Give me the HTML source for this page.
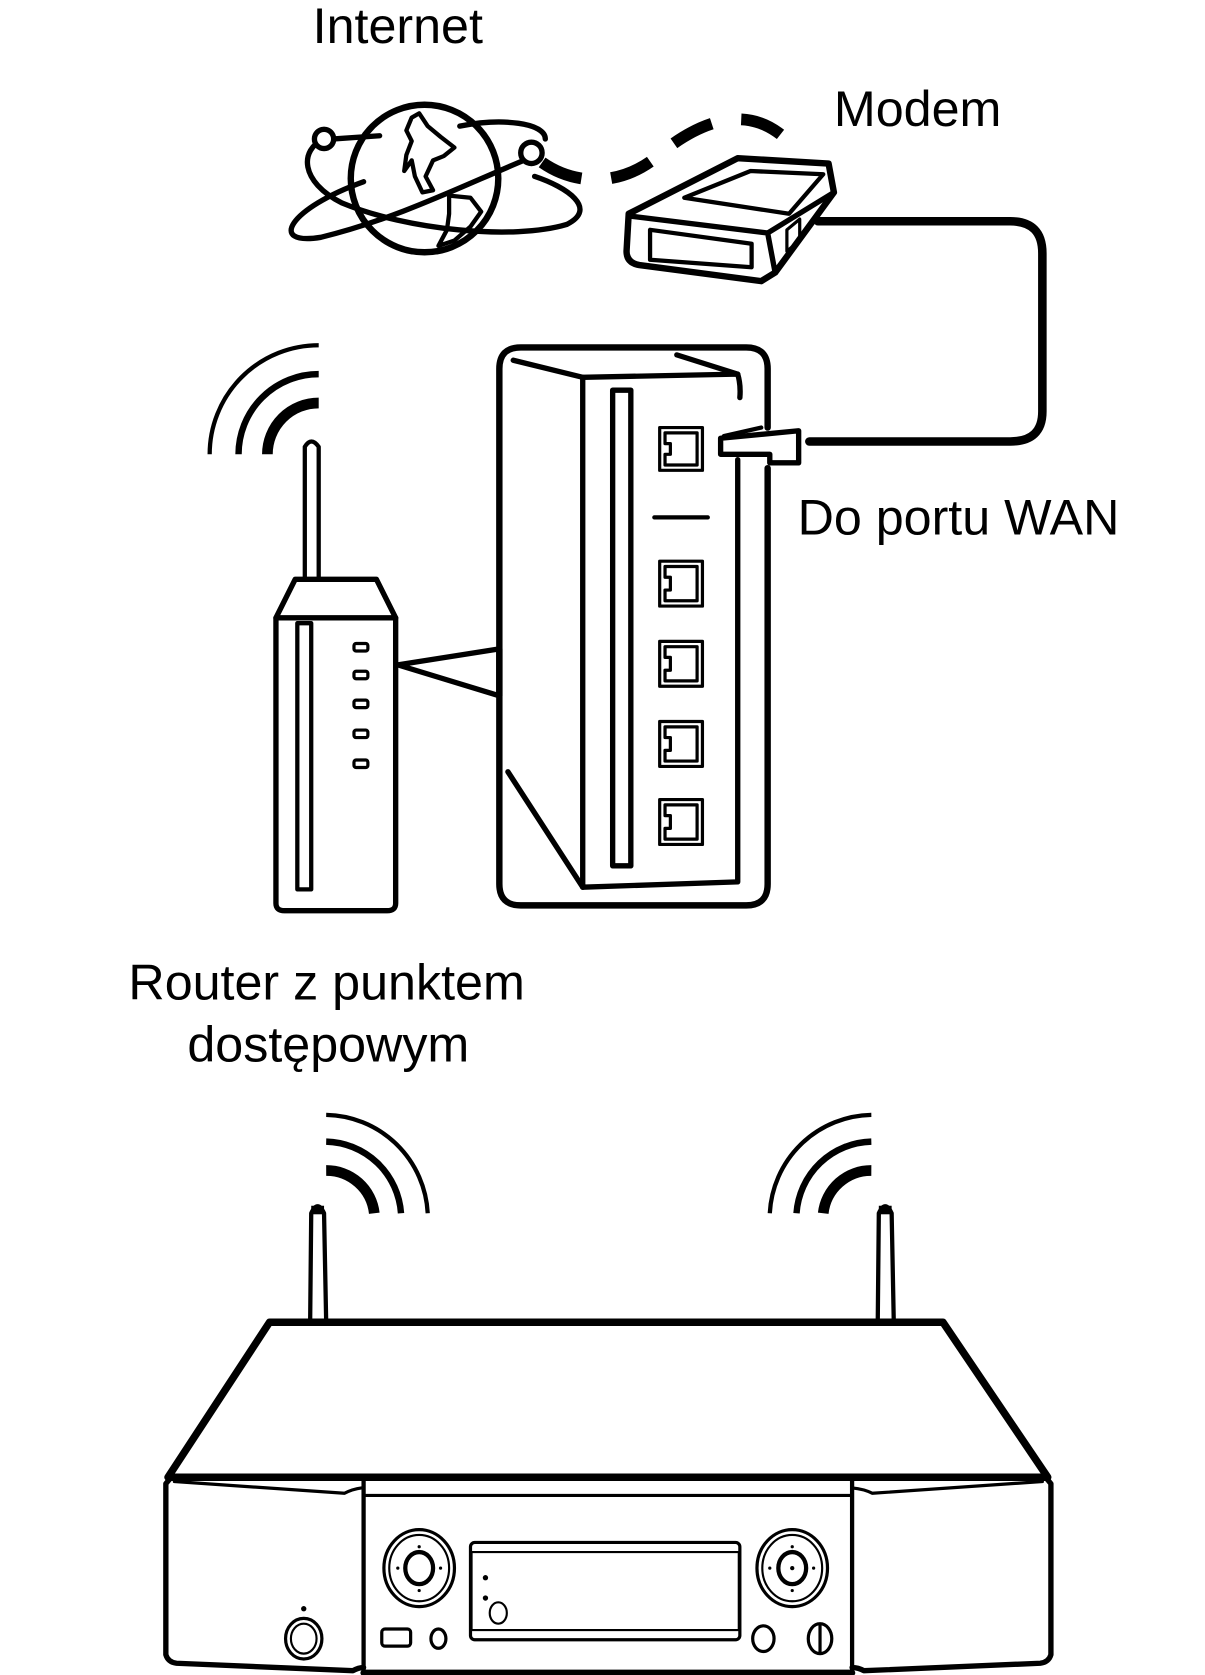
<!DOCTYPE html>
<html><head><meta charset="utf-8"><style>
html,body{margin:0;padding:0;background:#fff}
svg{display:block}
text{font-family:"Liberation Sans",sans-serif;font-size:47px;fill:#000}
</style></head><body>
<svg width="1205" height="1675" viewBox="0 0 1127 1567" xmlns="http://www.w3.org/2000/svg">
<text x="372" y="40" text-anchor="middle">Internet</text>
<text x="780" y="118">Modem</text>
<text x="746" y="500">Do portu WAN</text>
<text x="120" y="935">Router z punktem</text>
<text x="307" y="993" text-anchor="middle">dostępowym</text>

<g fill="none" stroke="#000" stroke-linejoin="round" stroke-linecap="round">
<!-- globe -->
<circle cx="397" cy="167" r="69" stroke-width="6"/>
<path d="M303 130 C280 140 280 170 320 190 C380 215 480 225 530 210 C560 195 530 175 500 165" stroke-width="5"/>
<path d="M312 130 L355 127 M430 118 C470 110 510 115 510 130" stroke-width="5"/>
<path d="M490 150 C430 175 370 205 300 222 C250 230 270 195 340 170" stroke-width="5"/>
<circle cx="303" cy="130" r="9" stroke-width="5" fill="#fff"/>
<circle cx="497" cy="143" r="10" stroke-width="5" fill="#fff"/>
<path d="M392 106 L400 118 L412 128 L425 138 L415 146 L405 150 L398 165 L405 178 L395 180 L388 165 L385 150 L378 160 L380 145 L385 132 L380 122 L385 110 Z" stroke-width="4"/>
<path d="M420 183 L440 185 L450 198 L440 212 L425 225 L410 230 L418 215 L420 200 Z" stroke-width="4"/>
<!-- dashed to modem -->
<path d="M507 152 C540 175 580 172 610 150 C650 115 700 92 740 135" stroke-width="11" stroke-dasharray="40 28" stroke-linecap="butt"/>
<!-- modem -->
<path d="M588 200 L690 148 L775 153 L780 180 L725 255 L712 263 L598 248 Q586 246 586 235 Z" stroke-width="6" fill="#fff"/>
<path d="M588 202 L718 218 L725 255" stroke-width="5"/>
<path d="M718 218 L780 180" stroke-width="5"/>
<path d="M640 185 L702 160 L770 163 L738 200 Z" stroke-width="4"/>
<path d="M608 215 L608 243 L703 250 L703 228 Z" stroke-width="4"/>
<path d="M736 215 L748 205 L748 225 L736 235 Z" stroke-width="3"/>
<!-- cable -->
<path d="M765 207 L945 207 Q975 207 975 237 L975 385 Q975 413 945 413 L757 413" stroke-width="8"/>
<!-- router small wifi -->
<path d="M250 425 A48 48 0 0 1 298 377" stroke-width="10" stroke-linecap="butt"/>
<path d="M223 425 A75 75 0 0 1 298 350" stroke-width="6" stroke-linecap="butt"/>
<path d="M196 425 A102 102 0 0 1 298 323" stroke-width="4" stroke-linecap="butt"/>
<!-- antenna -->
<path d="M285 552 L285 418 Q291 408 298 418 L298 552" stroke-width="4" fill="#fff"/>
<!-- router body -->
<path d="M258 578 L276 542 L352 542 L370 578" stroke-width="5" fill="#fff"/>
<path d="M258 578 L370 578 L370 845 Q370 852 362 852 L266 852 Q258 852 258 845 Z" stroke-width="5" fill="#fff"/>
<rect x="278" y="583" width="13" height="249" stroke-width="4"/>
<g stroke-width="3"><rect x="331" y="602" width="13" height="7" rx="2"/><rect x="331" y="628" width="13" height="7" rx="2"/><rect x="331" y="655" width="13" height="7" rx="2"/><rect x="331" y="683" width="13" height="7" rx="2"/><rect x="331" y="711" width="13" height="7" rx="2"/></g>
<path d="M372 622 L467 607 M372 622 L467 651" stroke-width="5"/>
<!-- zoom box -->
<path d="M467 651 L467 345 Q467 325 487 325 L698 325 Q718 325 718 345 L718 400" stroke-width="6"/>
<path d="M718 438 L718 827 Q718 847 698 847 L487 847 Q467 847 467 827 L467 607" stroke-width="6"/>
<path d="M480 337 L545 353 L690 350 Q693 360 692 372" stroke-width="5"/>
<path d="M633 332 L690 350" stroke-width="5"/>
<path d="M545 353 L545 830 L690 825 L690 430" stroke-width="5"/>
<path d="M475 722 L545 830" stroke-width="5"/>
<rect x="573" y="365" width="17" height="445" stroke-width="5"/>
<path d="M612 484 L662 484" stroke-width="4"/>
<g stroke-width="3">
<rect x="617" y="400" width="40" height="40"/><path d="M622 405 L652 405 L652 435 L622 435 L622 425 L627 425 L627 415 L622 415 Z"/>
<rect x="617" y="525" width="40" height="42"/><path d="M622 530 L652 530 L652 562 L622 562 L622 552 L627 552 L627 540 L622 540 Z"/>
<rect x="617" y="600" width="40" height="42"/><path d="M622 605 L652 605 L652 637 L622 637 L622 627 L627 627 L627 615 L622 615 Z"/>
<rect x="617" y="675" width="40" height="42"/><path d="M622 680 L652 680 L652 712 L622 712 L622 702 L627 702 L627 690 L622 690 Z"/>
<rect x="617" y="748" width="40" height="42"/><path d="M622 753 L652 753 L652 785 L622 785 L622 775 L627 775 L627 763 L622 763 Z"/>
</g>
<!-- WAN plug -->
<path d="M674 410 L674 425 L720 425 L720 433 L747 433 L747 403 L674 410" stroke-width="5" fill="#fff"/>
<path d="M677 408 L712 400" stroke-width="4"/>
<!-- bottom wifi -->
<path d="M305 1095 A45 45 0 0 1 350 1135" stroke-width="10" stroke-linecap="butt"/>
<path d="M305 1068 A72 72 0 0 1 375 1135" stroke-width="6" stroke-linecap="butt"/>
<path d="M305 1043 A97 97 0 0 1 400 1135" stroke-width="4" stroke-linecap="butt"/>
<path d="M815 1095 A45 45 0 0 0 770 1135" stroke-width="10" stroke-linecap="butt"/>
<path d="M815 1068 A72 72 0 0 0 745 1135" stroke-width="6" stroke-linecap="butt"/>
<path d="M815 1043 A97 97 0 0 0 720 1135" stroke-width="4" stroke-linecap="butt"/>
<!-- antennas -->
<path d="M290 1237 L291 1135 Q297 1122 303 1135 L305 1237" stroke-width="4"/>
<rect x="291" y="1128" width="12" height="8" fill="#000" stroke="none"/>
<path d="M821 1237 L822 1135 Q828 1122 834 1135 L836 1237" stroke-width="4"/>
<rect x="822" y="1128" width="12" height="8" fill="#000" stroke="none"/>
<!-- body -->
<path d="M252 1237 L882 1237 L980 1382 L157 1382 Z" stroke-width="7" fill="#fff"/>
<path d="M160 1382 L155 1388 L155 1548 Q157 1555 165 1556 L330 1563 Q335 1560 340 1560" stroke-width="5"/>
<path d="M978 1382 L983 1388 L983 1548 Q981 1555 973 1556 L808 1563 Q803 1560 797 1560" stroke-width="5"/>
<path d="M163 1386 L322 1397 Q330 1393 338 1392" stroke-width="3"/>
<path d="M975 1386 L816 1397 Q808 1393 797 1392" stroke-width="3"/>
<rect x="340" y="1382" width="457" height="183" stroke-width="4"/>
<path d="M340 1399 L797 1399" stroke-width="3"/>
<path d="M340 1565 L797 1565" stroke-width="6"/>
<!-- controls -->
<ellipse cx="392" cy="1467" rx="33" ry="36" stroke-width="3"/>
<ellipse cx="392" cy="1467" rx="28" ry="31" stroke-width="2"/>
<ellipse cx="392" cy="1467" rx="13" ry="15" stroke-width="4"/>
<ellipse cx="741" cy="1467" rx="33" ry="36" stroke-width="3"/>
<ellipse cx="741" cy="1467" rx="28" ry="31" stroke-width="2"/>
<ellipse cx="741" cy="1467" rx="13" ry="15" stroke-width="4"/>
<rect x="440" y="1443" width="252" height="91" rx="4" stroke-width="3"/>
<rect x="441" y="1452" width="250" height="73" stroke-width="2"/>
<ellipse cx="466" cy="1509" rx="8" ry="10" stroke-width="2"/>
<ellipse cx="284" cy="1533" rx="17" ry="19" stroke-width="3"/>
<ellipse cx="284" cy="1533" rx="12" ry="14" stroke-width="2"/>
<rect x="357" y="1524" width="27" height="16" rx="3" stroke-width="3"/>
<ellipse cx="410" cy="1533" rx="7" ry="9" stroke-width="3"/>
<ellipse cx="714" cy="1533" rx="10" ry="12" stroke-width="3"/>
<ellipse cx="767" cy="1533" rx="11" ry="14" stroke-width="3"/>
<path d="M767 1520 L767 1546" stroke-width="3"/>
</g>
<g fill="#000">
<circle cx="454" cy="1476" r="2.5"/><circle cx="454" cy="1495" r="2.5"/><circle cx="284" cy="1505" r="2.5"/>
<circle cx="392" cy="1447" r="1.5"/><circle cx="392" cy="1488" r="1.5"/><circle cx="372" cy="1467" r="1.5"/><circle cx="412" cy="1467" r="1.5"/>
<circle cx="741" cy="1447" r="1.5"/><circle cx="741" cy="1488" r="1.5"/><circle cx="720" cy="1467" r="1.5"/><circle cx="761" cy="1467" r="1.5"/><circle cx="741" cy="1467" r="2"/>
</g>
</svg>
</body></html>
